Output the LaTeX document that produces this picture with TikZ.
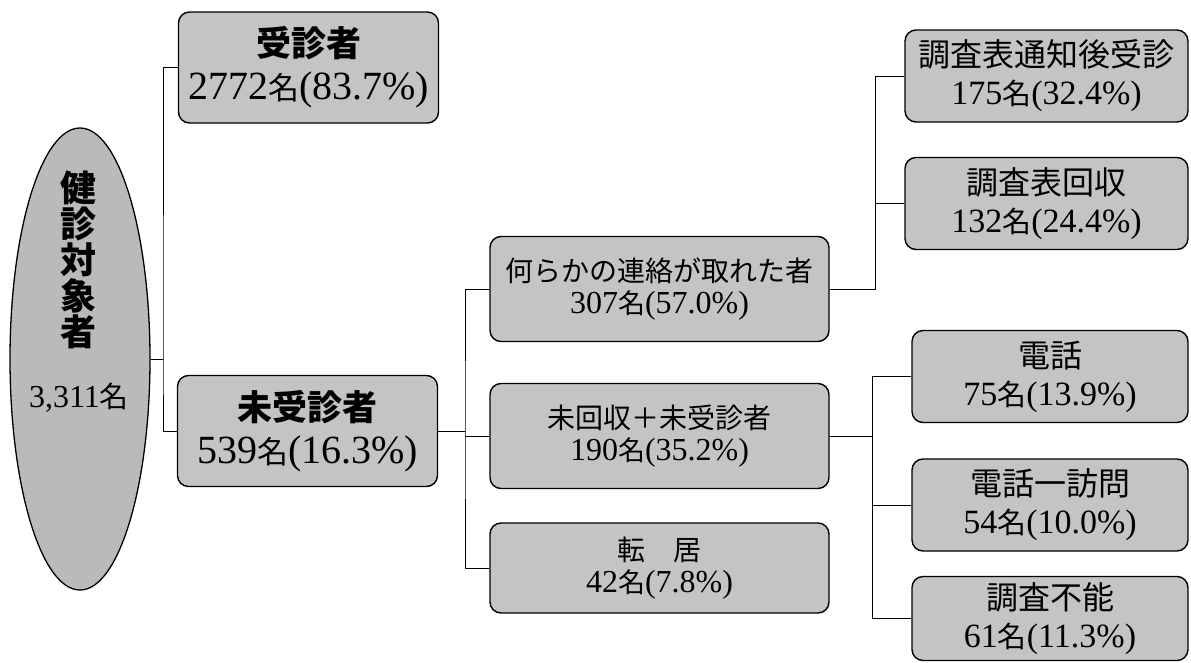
\documentclass[tikz,border=0pt]{standalone}
\usepackage{fontspec}
\setmainfont{Liberation Serif}
\newfontfamily\cjk{Noto Sans CJK JP}
\usetikzlibrary{shapes.geometric}
\definecolor{boxgray}{gray}{0.77}
\definecolor{ellgray}{gray}{0.73}
\newcommand{\mei}[1]{{\cjk\fontsize{#1}{#1}\selectfont 名}}
\tikzset{
  box/.style={draw=black, line width=1.4pt, rounded corners=11pt, fill=boxgray,
    inner sep=0pt, align=center},
  bigbox/.style={box, minimum width=260pt, minimum height=111pt, font=\fontsize{40}{43}\selectfont},
  midbox/.style={box, minimum width=339pt, minimum height=105pt, font=\fontsize{32}{32}\selectfont},
  rbox/.style={box, minimum width=283pt, minimum height=92pt, font=\fontsize{34}{38}\selectfont},
  conn/.style={draw=black, line width=1pt},
}
\begin{document}
\begin{tikzpicture}[x=1pt,y=-1pt]
\useasboundingbox (0,0) rectangle (1191,662);
% ellipse
\node[ellipse, draw=black, line width=1.3pt, fill=ellgray, minimum width=140pt, minimum height=462pt, inner sep=0pt] (ell) at (80,359) {};
\node[inner sep=0pt, align=center, font=\fontsize{36}{36}\selectfont] (elltext) at (79,292)
  {{\cjk\bfseries 健}\\{\cjk\bfseries 診}\\{\cjk\bfseries 対}\\{\cjk\bfseries 象}\\{\cjk\bfseries 者}\\[26pt]{\fontsize{32}{32}\selectfont 3,311\mei{29}}};
% level 1
\node[bigbox] (jushin) at (308.5,67.5)
  {{\cjk\bfseries\fontsize{35}{35}\selectfont 受診者}\\2772\mei{31}(83.7\%)};
\node[bigbox] (mijushin) at (307.5,431)
  {{\cjk\bfseries\fontsize{35}{35}\selectfont 未受診者}\\539\mei{31}(16.3\%)};
% level 2
\node[midbox] (renraku) at (659.5,289)
  {{\cjk\fontsize{28}{28}\selectfont 何らかの連絡が取れた者}\\307\mei{27}(57.0\%)};
\node[midbox] (mikaishu) at (659.5,436)
  {{\cjk\fontsize{28}{28}\selectfont 未回収＋未受診者}\\190\mei{27}(35.2\%)};
\node[midbox, minimum height=90pt] (tenkyo) at (659.5,568)
  {{\cjk\fontsize{28}{28}\selectfont 転　居}\\42\mei{27}(7.8\%)};
% level 3
\node[rbox] (tsuchi) at (1046.5,76)
  {{\cjk\fontsize{32}{32}\selectfont 調査表通知後受診}\\175\mei{29}(32.4\%)};
\node[rbox] (kaishu) at (1046.5,203.5)
  {{\cjk\fontsize{32}{32}\selectfont 調査表回収}\\132\mei{29}(24.4\%)};
\node[rbox, minimum width=276pt] (denwa) at (1050,376.5)
  {{\cjk\fontsize{32}{32}\selectfont 電話}\\75\mei{29}(13.9\%)};
\node[rbox, minimum width=276pt] (homon) at (1050,505)
  {{\cjk\fontsize{32}{32}\selectfont 電話一訪問}\\54\mei{29}(10.0\%)};
\node[rbox, minimum width=276pt, minimum height=84pt] (funo) at (1050,618.5)
  {{\cjk\fontsize{32}{32}\selectfont 調査不能}\\61\mei{29}(11.3\%)};
% connectors
\coordinate (b1) at (163,359);
\coordinate (b2) at (465,431);
\coordinate (b3) at (875,289);
\coordinate (b4) at (872,436);
\draw[conn] (ell.east) -- (ell.east -| b1);
\draw[conn] (jushin.west) -| (b1) |- (mijushin.west);
\draw[conn] (mijushin.east) -- (mijushin.east -| b2);
\draw[conn] (renraku.west) -| (b2) |- (tenkyo.west);
\draw[conn] (mikaishu.west) -- (mikaishu.west -| b2);
\draw[conn] (renraku.east) -| (b3) |- (tsuchi.west);
\draw[conn] (kaishu.west) -- (kaishu.west -| b3);
\draw[conn] (mikaishu.east) -- (mikaishu.east -| b4);
\draw[conn] (denwa.west) -| (b4) |- (funo.west);
\draw[conn] (homon.west) -- (homon.west -| b4);
\end{tikzpicture}
\end{document}
